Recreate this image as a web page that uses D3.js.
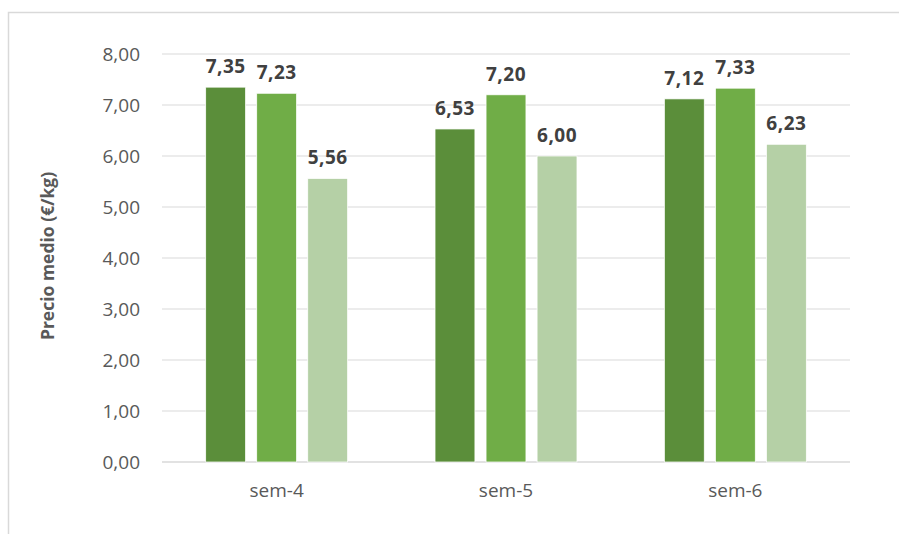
<!DOCTYPE html>
<html>
<head>
<meta charset="utf-8">
<script src="https://cdn.jsdelivr.net/npm/d3@7"></script>
<style>
  body { margin: 0; background: #fff; }
  svg { display: block; }
</style>
</head>
<body>
<script>
// weekly data, three series per week
var weeks = ["sem-4", "sem-5", "sem-6"]
var serieA = [7.35, 6.53, 7.12]
var serieB = [7.23, 7.20, 7.33]
var serieC = [5.56, 6.00, 6.23]
var yTicks = [0, 1, 2, 3, 4, 5, 6, 7, 8]
var colors = ["#5b8e3a", "#70ad47", "#b5d0a6"]

var W = 899, H = 534
var margin = { top: 54, right: 49, bottom: 72, left: 162 }

svg = d3.select("body").append("svg").attr("width", W).attr("height", H)

// chart frame (only top and left edges visible in the crop)
svg.append("path")
    .attr("d", "M8.5,540 L8.5,12.5 L905,12.5")
    .attr("fill", "none").attr("stroke", "#d9d9d9").attr("stroke-width", 1.5)

var x = d3.scaleBand().domain(weeks).range([margin.left, W - margin.right])
var y = d3.scaleLinear().domain([0, 8]).range([H - margin.bottom, margin.top])

// grid
svg.append("g").selectAll("line").data(yTicks).enter().append("line")
    .attr("x1", margin.left).attr("x2", W - margin.right)
    .attr("y1", d => y(d)).attr("y2", d => y(d))
    .attr("stroke", "#d9d9d9").attr("stroke-width", d => d == 0 ? 1.5 : 1)

var fmt = d => d.toFixed(2).replace(".", ",")

svg.append("g").selectAll("text").data(yTicks).enter().append("text")
    .attr("x", 140).attr("y", d => y(d)).attr("dy", "0.35em")
    .attr("text-anchor", "end")
    .style("font-family", "'Open Sans', sans-serif").style("font-size", "19px")
    .attr("fill", "#595959")
    .text(fmt)

svg.append("g").selectAll("text").data(weeks).enter().append("text")
    .attr("x", d => x(d) + x.bandwidth() / 2).attr("y", 497)
    .attr("text-anchor", "middle")
    .style("font-family", "'Open Sans', sans-serif").style("font-size", "19px")
    .attr("fill", "#595959")
    .text(d => d)

// y axis title
svg.append("text")
    .attr("transform", "translate(54," + 256 + ") rotate(-90)")
    .attr("text-anchor", "middle")
    .style("font-family", "'Open Sans', sans-serif").style("font-size", "17.5px").style("font-weight", "bold")
    .attr("fill", "#595959")
    .text("Precio medio (€/kg)")

var series = [serieA, serieB, serieC]
var barW = x.bandwidth() * 0.174
var offsets = [-0.2225, 0, 0.2225]

series.forEach(function(vals, s) {
    var g = svg.append("g")
    var rows = weeks.map((w, i) => ({ week: w, v: vals[i] }))
    g.selectAll("rect").data(rows).enter().append("rect")
        .attr("x", d => x(d.week) + x.bandwidth() / 2 + offsets[s] * x.bandwidth() - barW / 2)
        .attr("y", d => y(d.v))
        .attr("width", barW)
        .attr("height", d => y(0) - y(d.v))
        .attr("fill", colors[s])
        .attr("stroke", "#fff").attr("stroke-width", 0.75)
    g.selectAll("text").data(rows).enter().append("text")
        .attr("x", d => x(d.week) + x.bandwidth() / 2 + offsets[s] * x.bandwidth())
        .attr("y", d => y(d.v) - 14)
        .attr("text-anchor", "middle")
        .style("font-family", "'Open Sans', sans-serif").style("font-size", "19px").style("font-weight", "bold")
        .style("letter-spacing", "0.5px")
        .attr("fill", "#404040")
        .text(d => fmt(d.v))
})
</script>
</body>
</html>
